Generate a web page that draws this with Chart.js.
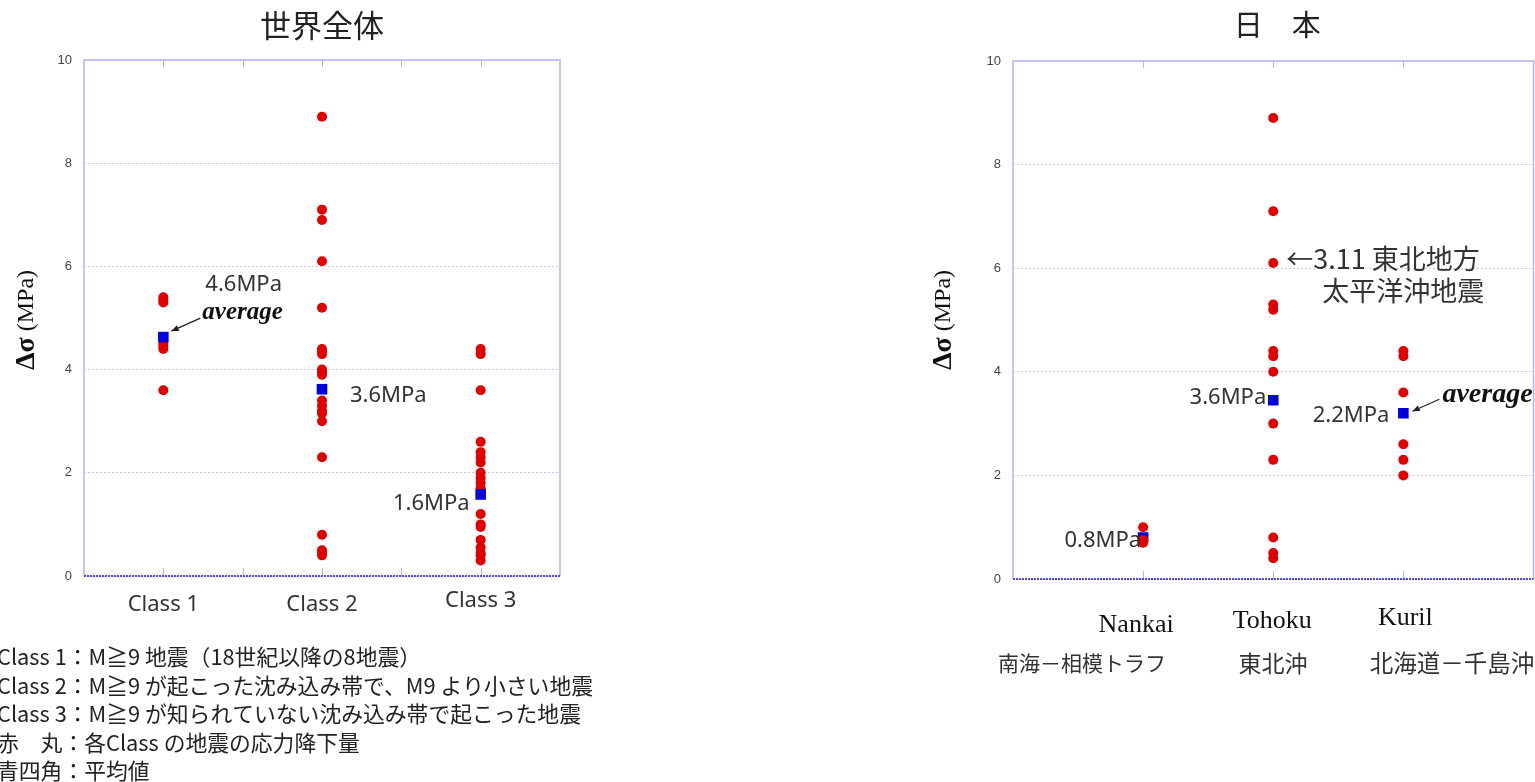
<!DOCTYPE html>
<html>
<head>
<meta charset="utf-8">
<script src="https://cdn.jsdelivr.net/npm/chart.js@4"></script>
<style>
  body { margin: 0; background: #fff; overflow: hidden; }
  canvas { position: absolute; top: 0; }
  #worldChart { left: 0; }
  #japanChart { left: 930px; }
</style>
</head>
<body>
<canvas id="worldChart" width="600" height="782"></canvas>
<canvas id="japanChart" width="611" height="782"></canvas>
<script>
// ---- data: world (Class 1..3) ----
const classNames = ['Class 1', 'Class 2', 'Class 3'];
const classPos = [1, 3, 5];
const class1 = [5.4, 5.35, 5.3, 4.5, 4.45, 4.4, 3.6];
const class2 = [8.9, 7.1, 6.9, 6.1, 5.2, 4.4, 4.35, 4.3, 4.0, 3.95, 3.9, 3.4, 3.3, 3.2, 3.15, 3.0, 2.3, 0.8, 0.5, 0.45, 0.4];
const class3 = [4.4, 4.3, 3.6, 2.6, 2.4, 2.3, 2.2, 2.0, 1.9, 1.8, 1.7, 1.2, 1.0, 0.95, 0.7, 0.55, 0.45, 0.4, 0.3];
const worldAvg = [4.63, 3.62, 1.58];
const worldAvgText = ['4.6MPa', '3.6MPa', '1.6MPa'];

// ---- data: Japan ----
const regionNames = ['Nankai', 'Tohoku', 'Kuril'];
const regionNamesJa = ['南海－相模トラフ', '東北沖', '北海道－千島沖'];
const regionPos = [1, 2, 3];
const nankai = [1.0, 0.75, 0.7];
const tohoku = [8.9, 7.1, 6.1, 5.3, 5.2, 4.4, 4.3, 4.0, 3.0, 2.3, 0.8, 0.5, 0.4];
const kuril = [4.4, 4.3, 3.6, 2.6, 2.3, 2.0];
const japanAvg = [0.8, 3.45, 3.2];
const japanAvgText = ['0.8MPa', '3.6MPa', '2.2MPa'];

const yTicks = [0, 2, 4, 6, 8, 10];

const notes = [
  'Class 1：M≧9 地震（18世紀以降の8地震）',
  'Class 2：M≧9 が起こった沈み込み帯で、M9 より小さい地震',
  'Class 3：M≧9 が知られていない沈み込み帯で起こった地震',
  '赤　丸：各Class の地震の応力降下量',
  '青四角：平均値'
];

const SANS = '"Noto Sans", "Noto Sans CJK JP", sans-serif';
const JP = '"Noto Sans CJK JP", "Noto Sans", sans-serif';
const SERIF = '"Liberation Serif", "DejaVu Serif", serif';
const FRAME = '#b4b4f4';

function pts(pos, values) {
  return values.map(v => ({ x: pos, y: v }));
}

function text(ctx, str, x, y, font, align, color) {
  ctx.save();
  ctx.font = font;
  ctx.textAlign = align || 'left';
  ctx.textBaseline = 'middle';
  ctx.fillStyle = color || '#333';
  ctx.fillText(str, x, y);
  ctx.restore();
}

function arrow(ctx, x1, y1, x2, y2) {
  ctx.save();
  ctx.strokeStyle = '#222';
  ctx.fillStyle = '#222';
  ctx.lineWidth = 1.3;
  ctx.beginPath();
  ctx.moveTo(x1, y1);
  ctx.lineTo(x2, y2);
  ctx.stroke();
  const a = Math.atan2(y2 - y1, x2 - x1);
  ctx.beginPath();
  ctx.moveTo(x2, y2);
  ctx.lineTo(x2 - 8 * Math.cos(a - 0.4), y2 - 8 * Math.sin(a - 0.4));
  ctx.lineTo(x2 - 8 * Math.cos(a + 0.4), y2 - 8 * Math.sin(a + 0.4));
  ctx.closePath();
  ctx.fill();
  ctx.restore();
}

function yTitle(ctx, x, y) {
  ctx.save();
  ctx.translate(x, y);
  ctx.rotate(-Math.PI / 2);
  ctx.textBaseline = 'middle';
  ctx.fillStyle = '#111';
  const f1 = 'bold 28px ' + SERIF, f2 = '24px ' + SERIF;
  ctx.font = f1; const w1 = ctx.measureText('Δσ').width;
  ctx.font = f2; const w2 = ctx.measureText(' (MPa)').width;
  let sx = -(w1 + w2) / 2;
  ctx.font = f1; ctx.fillText('Δσ', sx, 0);
  ctx.font = f2; ctx.fillText(' (MPa)', sx + w1, 0);
  ctx.restore();
}

// frame, tick marks and dotted base line, like the original plot
const framePlugin = {
  id: 'frame',
  beforeDatasetsDraw(chart) {
    const { ctx, chartArea: a, scales: { x } } = chart;
    ctx.save();
    ctx.strokeStyle = FRAME;
    ctx.lineWidth = 1.5;
    ctx.beginPath();
    ctx.moveTo(a.left, a.bottom);
    ctx.lineTo(a.left, a.top);
    ctx.lineTo(a.right, a.top);
    ctx.lineTo(a.right, a.bottom);
    ctx.stroke();
    ctx.lineWidth = 1;
    for (let v = x.min + 1; v < x.max; v++) {
      const px = Math.round(x.getPixelForValue(v)) + 0.5;
      ctx.beginPath();
      ctx.moveTo(px, a.top); ctx.lineTo(px, a.top + 7);
      ctx.moveTo(px, a.bottom); ctx.lineTo(px, a.bottom - 8);
      ctx.stroke();
    }
    ctx.strokeStyle = '#4a4ae8';
    ctx.lineWidth = 2;
    ctx.setLineDash([2, 1]);
    ctx.beginPath();
    ctx.moveTo(a.left, a.bottom); ctx.lineTo(a.right, a.bottom);
    ctx.stroke();
    ctx.restore();
  }
};

function baseOptions(xMax, yWidth, padding) {
  return {
    responsive: false,
    animation: false,
    layout: { padding },
    plugins: { legend: { display: false }, tooltip: { enabled: false } },
    scales: {
      x: { type: 'linear', min: 0, max: xMax, display: false },
      y: {
        min: 0, max: 10,
        afterBuildTicks(scale) { scale.ticks = yTicks.map(v => ({ value: v })); },
        afterFit(scale) { scale.width = yWidth; },
        ticks: { color: '#444', padding: 12, font: { size: 13, family: '"Liberation Sans", Arial, sans-serif' } },
        grid: { color: '#c6c6f2', lineWidth: 1, drawTicks: false },
        border: { display: false, dash: [2, 2] }
      }
    }
  };
}

function pointSet(data) {
  return { data, pointRadius: 5, pointBackgroundColor: '#e00000', pointBorderWidth: 0, showLine: false };
}
function avgSet(data) {
  return { data, pointStyle: 'rect', pointRadius: 7.5, pointBackgroundColor: '#0000dd', pointBorderWidth: 0, showLine: false };
}

// ---- world chart ----
const worldLabels = {
  id: 'worldLabels',
  afterDraw(chart) {
    const { ctx, chartArea: a, scales: { x, y } } = chart;
    text(ctx, '世界全体', (a.left + a.right) / 2, 25, '31px ' + JP, 'center', '#222');
    yTitle(ctx, 27, 320);
    classNames.forEach((n, i) => {
      const dy = i === 2 ? 25 : 29;
      text(ctx, n, x.getPixelForValue(classPos[i]), a.bottom + dy, '22px ' + SANS, 'center', '#333');
    });
    const p = worldAvg.map((v, i) => [x.getPixelForValue(classPos[i]), y.getPixelForValue(v)]);
    text(ctx, worldAvgText[0], p[0][0] + 42, p[0][1] - 52, '22px ' + SANS, 'left', '#333');
    text(ctx, 'average', p[0][0] + 39, p[0][1] - 25, 'bold italic 25px ' + SERIF, 'left', '#111');
    arrow(ctx, p[0][0] + 37, p[0][1] - 19, p[0][0] + 8, p[0][1] - 6);
    text(ctx, worldAvgText[1], p[1][0] + 28, p[1][1] + 7, '22px ' + SANS, 'left', '#333');
    text(ctx, worldAvgText[2], p[2][0] - 11, p[2][1] + 9, '22px ' + SANS, 'right', '#333');
    notes.forEach((n, i) => {
      text(ctx, n, -3, 657 + i * 28.5, '21.8px ' + JP, 'left', '#222');
    });
  }
};

new Chart(document.getElementById('worldChart'), {
  type: 'scatter',
  data: {
    datasets: [
      avgSet(worldAvg.map((v, i) => ({ x: classPos[i], y: v }))),
      pointSet([].concat(pts(classPos[0], class1), pts(classPos[1], class2), pts(classPos[2], class3)))
    ]
  },
  options: baseOptions(6, 84, { top: 60, right: 40, bottom: 206, left: 0 }),
  plugins: [framePlugin, worldLabels]
});

// ---- Japan chart ----
const japanLabels = {
  id: 'japanLabels',
  afterDraw(chart) {
    const { ctx, chartArea: a, scales: { x, y } } = chart;
    text(ctx, '日　本', (a.left + a.right) / 2 + 4, 25, '29px ' + JP, 'center', '#222');
    yTitle(ctx, 14, 320);
    const nameDy = [46, 42, 39];
    const nameDx = [-7, -1, 2];
    regionNames.forEach((n, i) => {
      const px = x.getPixelForValue(regionPos[i]);
      text(ctx, n, px + nameDx[i], a.bottom + nameDy[i], '26px ' + SERIF, 'center', '#111');
    });
    const jaX = [1082, 1273, 1452];
    const jaSize = [21, 23, 23.5];
    regionNamesJa.forEach((n, i) => {
      text(ctx, n, jaX[i] - 930, a.bottom + 84, jaSize[i] + 'px ' + JP, 'center', '#333');
    });
    const p = japanAvg.map((v, i) => [x.getPixelForValue(regionPos[i]), y.getPixelForValue(v)]);
    text(ctx, japanAvgText[0], p[0][0] - 2, p[0][1] + 3, '22px ' + SANS, 'right', '#333');
    text(ctx, japanAvgText[1], p[1][0] - 7, p[1][1] - 3, '22px ' + SANS, 'right', '#333');
    text(ctx, japanAvgText[2], p[2][0] - 14, p[2][1] + 2, '22px ' + SANS, 'right', '#333');
    text(ctx, 'average', p[2][0] + 39, p[2][1] - 18, 'bold italic 28px ' + SERIF, 'left', '#111');
    arrow(ctx, p[2][0] + 36, p[2][1] - 14, p[2][0] + 9, p[2][1] - 2);
    const q = [x.getPixelForValue(regionPos[1]), y.getPixelForValue(tohoku[2])];
    text(ctx, '←3.11 東北地方', q[0] + 13, q[1] - 4, '27px ' + JP, 'left', '#333');
    text(ctx, '太平洋沖地震', q[0] + 49, q[1] + 28, '27px ' + JP, 'left', '#333');
  }
};

new Chart(document.getElementById('japanChart'), {
  type: 'scatter',
  data: {
    datasets: [
      pointSet([].concat(pts(regionPos[0], nankai), pts(regionPos[1], tohoku), pts(regionPos[2], kuril))),
      avgSet(japanAvg.map((v, i) => ({ x: regionPos[i], y: v })))
    ]
  },
  options: baseOptions(4, 83, { top: 61, right: 2, bottom: 203, left: 0 }),
  plugins: [framePlugin, japanLabels]
});
</script>
</body>
</html>
